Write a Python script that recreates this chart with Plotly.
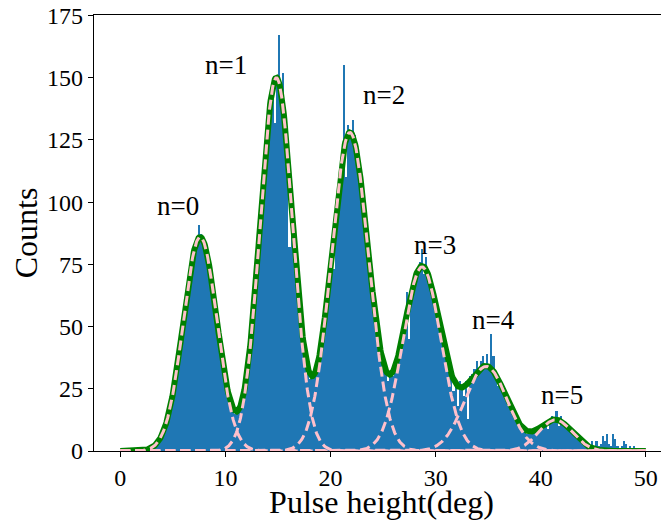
import numpy as np
import plotly.graph_objects as go

# ---- data ----
bin_width = 0.2
bin_centers = [round(0.1 + 0.2 * i, 1) for i in range(250)]
counts = [
    0, 0, 0, 0, 0, 0, 0, 0, 0, 0, 0, 0, 0, 0, 1,
    1, 2, 3, 5, 6, 8, 10, 14, 16, 22,
    25, 31, 38, 42, 50, 55, 63, 67, 75, 77,
    83, 86, 91, 87, 84, 82, 79, 72, 69, 61,
    56, 48, 43, 36, 31, 27, 22, 19, 17, 15,
    17, 17, 19, 22, 27, 33, 40, 47, 58, 68,
    80, 90, 104, 113, 125, 134, 143, 148, 132, 150,
    167, 140, 152, 128, 120, 82, 97, 84, 74, 63,
    56, 48, 41, 36, 31, 29, 31, 32, 34, 37,
    43, 48, 56, 62, 72, 79, 73, 97, 103, 100,
    118, 155, 110, 131, 129, 133, 127, 120, 114, 107,
    101, 91, 84, 74, 68, 60, 53, 47, 42, 37,
    34, 31, 28, 32, 30, 35, 36, 40, 42, 48,
    52, 64, 45, 64, 66, 70, 73, 76, 81, 71,
    78, 69, 67, 62, 60, 56, 50, 49, 44, 41,
    35, 34, 30, 24, 27, 18, 28, 26, 22, 28,
    13, 30, 31, 33, 36, 31, 36, 38, 33, 39,
    35, 47, 38, 31, 26, 29, 24, 25, 20, 18,
    17, 15, 14, 12, 11, 9, 10, 8, 7, 8,
    7, 9, 8, 9, 10, 11, 10, 12, 9, 13,
    14, 12, 16, 10, 14, 11, 10, 9, 9, 8,
    7, 6, 5, 5, 3, 3, 2, 3, 2, 4,
    2, 4, 2, 3, 6, 4, 7, 3, 2, 7,
    5, 2, 1, 2, 4, 3, 1, 2, 1, 2,
    1, 1, 0, 1, 0,
]

# fitted Gaussian components (amplitude, mean, sigma)
amplitudes = [86, 150, 128, 74, 34, 12.5]
means = [7.6, 14.85, 21.85, 28.7, 34.8, 41.4]
sigmas = [1.6, 1.55, 1.78, 1.8, 2.0, 1.6]

peak_labels = ["n=0", "n=1", "n=2", "n=3", "n=4", "n=5"]
label_x = [5.47, 10.08, 25.1, 29.94, 35.49, 42.0]
label_y = [98.4, 155.3, 142.9, 82.8, 52.7, 22.6]

x_ticks = [0, 10, 20, 30, 40, 50]
y_ticks = [0, 25, 50, 75, 100, 125, 150, 175]

# ---- figure ----
xs = np.linspace(0, 50, 1001)
components = [a * np.exp(-(xs - m) ** 2 / (2 * s ** 2))
              for a, m, s in zip(amplitudes, means, sigmas)]
total = np.sum(components, axis=0)

fig = go.Figure()
fig.add_trace(go.Bar(x=bin_centers, y=counts, width=bin_width,
                     marker=dict(color="#1f77b4", line=dict(width=0)),
                     showlegend=False))
fig.add_trace(go.Scatter(x=xs, y=total, mode="lines",
                         line=dict(color="green", width=6),
                         showlegend=False))
for comp in components:
    fig.add_trace(go.Scatter(x=xs, y=comp, mode="lines",
                             line=dict(color="pink", width=3, dash="10px,5px"),
                             showlegend=False))

for t, lx, ly in zip(peak_labels, label_x, label_y):
    fig.add_annotation(x=lx, y=ly, text=t, showarrow=False,
                       xanchor="center", yanchor="middle",
                       font=dict(family="Liberation Serif", size=27, color="black"))

font = dict(family="Liberation Serif", color="black")
fig.update_layout(
    width=661, height=512,
    margin=dict(l=86, r=0, t=7, b=69),
    plot_bgcolor="white", paper_bgcolor="white",
    bargap=0,
    font=font,
    xaxis=dict(range=[-2.5, 52.2], tickvals=x_ticks, ticks="outside", ticklen=5,
               tickwidth=1, tickcolor="black", showline=True, linecolor="black",
               linewidth=1.2, mirror=True, showgrid=False, zeroline=False,
               automargin=False,
               tickfont=dict(family="Liberation Serif", size=24, color="black"),
               title=dict(text="Pulse height(deg)", standoff=0,
                          font=dict(family="Liberation Serif", size=32, color="black"))),
    yaxis=dict(range=[0, 175.2], tickvals=y_ticks, ticks="outside", ticklen=5,
               tickwidth=1, tickcolor="black", showline=True, linecolor="black",
               linewidth=1.2, showgrid=False, zeroline=False,
               automargin=False, ticklabeloverflow="allow",
               tickfont=dict(family="Liberation Serif", size=24, color="black"),
               title=dict(text="Counts", standoff=4,
                          font=dict(family="Liberation Serif", size=32, color="black"))),
)

fig.write_html("out.html")
